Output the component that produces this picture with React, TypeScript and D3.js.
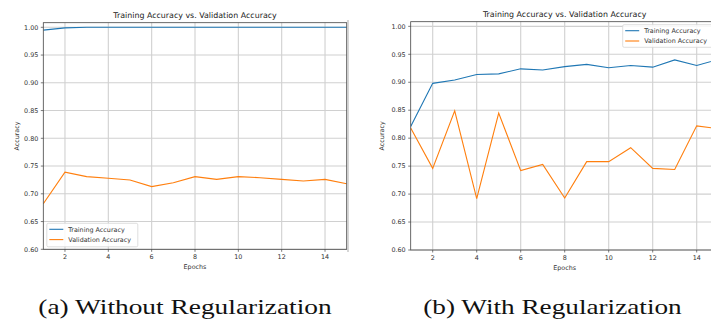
import React from "react";
import * as d3 from "d3";

const epochs = [1, 2, 3, 4, 5, 6, 7, 8, 9, 10, 11, 12, 13, 14, 15];
const trainNoReg = [0.995, 0.999, 1.0, 1.0, 1.0, 1.0, 1.0, 1.0, 1.0, 1.0, 1.0, 1.0, 1.0, 1.0, 1.0];
const valNoReg = [0.682, 0.739, 0.731, 0.728, 0.725, 0.713, 0.72, 0.731, 0.726, 0.731, 0.729, 0.726, 0.723, 0.726, 0.718];
const trainReg = [0.821, 0.898, 0.904, 0.914, 0.915, 0.924, 0.922, 0.928, 0.932, 0.926, 0.93, 0.927, 0.94, 0.93, 0.941];
const valReg = [0.818, 0.746, 0.849, 0.692, 0.845, 0.742, 0.753, 0.693, 0.758, 0.758, 0.783, 0.746, 0.744, 0.822, 0.817];
const xTicks = [2, 4, 6, 8, 10, 12, 14];
const yTicks = [0.6, 0.65, 0.7, 0.75, 0.8, 0.85, 0.9, 0.95, 1.0];
const seriesNames = ["Training Accuracy", "Validation Accuracy"];
const chartTitle = "Training Accuracy vs. Validation Accuracy";
const captions = ["(a) Without Regularization", "(b) With Regularization"];

const BLUE = "#1f77b4";
const ORANGE = "#ff7f0e";
const FONT = "DejaVu Sans, sans-serif";

type PanelProps = {
  left: number;
  right: number;
  top: number;
  bottom: number;
  train: number[];
  val: number[];
  legend: "ll" | "ur";
  ylabelX: number;
  clipId: string;
};

function Panel({ left, right, top, bottom, train, val, legend, ylabelX, clipId }: PanelProps) {
  const x = d3.scaleLinear().domain([1, 15]).range([left, right]);
  const y = d3.scaleLinear().domain([0.6, 1.0083]).range([bottom, top]);
  const line = d3
    .line<number>()
    .x((_, i) => x(epochs[i]))
    .y((d) => y(d));
  const titleCx = (left + right) / 2;
  const fs = 6.4;

  const legBox =
    legend === "ll"
      ? { x: left + 3.5, y: bottom - 26, w: 91, h: 23.5 }
      : { x: 622.7, y: top + 3, w: 100, h: 22.6 };

  return (
    <g>
      <defs>
        <clipPath id={clipId}>
          <rect x={left} y={top} width={right - left} height={bottom - top} />
        </clipPath>
      </defs>
      <rect x={left} y={top} width={right - left} height={bottom - top} fill="#fff" />
      {xTicks.map((t) => (
        <line key={"gx" + t} x1={x(t)} x2={x(t)} y1={top} y2={bottom} stroke="#d0d0d0" strokeWidth={1.1} />
      ))}
      {yTicks.map((t) => (
        <line key={"gy" + t} x1={left} x2={right} y1={y(t)} y2={y(t)} stroke="#d0d0d0" strokeWidth={1.1} />
      ))}
      <g clipPath={`url(#${clipId})`}>
        <path d={line(train) || ""} fill="none" stroke={BLUE} strokeWidth={1.1} />
        <path d={line(val) || ""} fill="none" stroke={ORANGE} strokeWidth={1.1} />
      </g>
      <rect x={left} y={top} width={right - left} height={bottom - top} fill="none" stroke="#444" strokeWidth={0.8} />
      {xTicks.map((t) => (
        <g key={"tx" + t}>
          <line x1={x(t)} x2={x(t)} y1={bottom} y2={bottom + 2.5} stroke="#444" strokeWidth={0.7} />
          <text x={x(t)} y={bottom + 9.5} fontSize={fs} fontFamily={FONT} fill="#333" textAnchor="middle">
            {t}
          </text>
        </g>
      ))}
      {yTicks.map((t) => (
        <g key={"ty" + t}>
          <line x1={left - 2.5} x2={left} y1={y(t)} y2={y(t)} stroke="#444" strokeWidth={0.7} />
          <text x={left - 5} y={y(t)} dy="0.35em" fontSize={fs} fontFamily={FONT} fill="#333" textAnchor="end">
            {t.toFixed(2)}
          </text>
        </g>
      ))}
      <text x={titleCx} y={top - 5} fontSize={7.9} fontFamily={FONT} fill="#222" textAnchor="middle">
        {chartTitle}
      </text>
      <text x={(left + right) / 2} y={bottom + 19.5} fontSize={fs} fontFamily={FONT} fill="#333" textAnchor="middle">
        Epochs
      </text>
      <text
        transform={`translate(${ylabelX},${(top + bottom) / 2}) rotate(-90)`}
        fontSize={fs}
        fontFamily={FONT}
        fill="#333"
        textAnchor="middle"
      >
        Accuracy
      </text>
      <g>
        <rect
          x={legBox.x}
          y={legBox.y}
          width={legBox.w}
          height={legBox.h}
          rx={1.5}
          fill="#fff"
          fillOpacity={0.85}
          stroke="#d6d6d6"
          strokeWidth={0.8}
        />
        {seriesNames.map((n, i) => {
          const ly = legBox.y + 6 + i * 10.3;
          return (
            <g key={n}>
              <line x1={legBox.x + 2.5} x2={legBox.x + 16.5} y1={ly} y2={ly} stroke={i === 0 ? BLUE : ORANGE} strokeWidth={1.1} />
              <text x={legBox.x + 21.5} y={ly} dy="0.35em" fontSize={fs} fontFamily={FONT} fill="#333">
                {n}
              </text>
            </g>
          );
        })}
      </g>
    </g>
  );
}

export default function App() {
  return (
    <svg
      width={711}
      height={320}
      style={{ position: "absolute", left: 0, top: 0, background: "#fff" }}
      xmlns="http://www.w3.org/2000/svg"
    >
      <rect x={0} y={0} width={711} height={320} fill="#fff" />
      <Panel
        left={43.3}
        right={346.7}
        top={22.7}
        bottom={249.3}
        train={trainNoReg}
        val={valNoReg}
        legend="ll"
        ylabelX={18.5}
        clipId="c1"
      />
      <line x1={348} x2={348} y1={20} y2={252} stroke="#bbb" strokeWidth={1.2} />
      <Panel
        left={410.7}
        right={718.7}
        top={21.7}
        bottom={250}
        train={trainReg}
        val={valReg}
        legend="ur"
        ylabelX={383.5}
        clipId="c2"
      />
      <text
        x={38.3}
        y={314.3}
        fontSize={21}
        fontFamily="Liberation Serif, serif"
        fill="#111"
        textLength={293.4}
        lengthAdjust="spacingAndGlyphs"
      >
        {captions[0]}
      </text>
      <text
        x={423.3}
        y={314.3}
        fontSize={21}
        fontFamily="Liberation Serif, serif"
        fill="#111"
        textLength={258.4}
        lengthAdjust="spacingAndGlyphs"
      >
        {captions[1]}
      </text>
    </svg>
  );
}
